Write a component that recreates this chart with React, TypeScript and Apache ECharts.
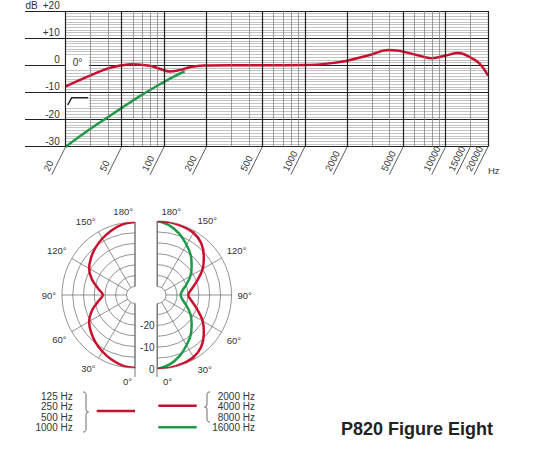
import { useEffect, useRef } from 'react';
import * as echarts from 'echarts';

const FONT = '"Liberation Sans", Arial, Helvetica, sans-serif';
const TEXT = '#333';
const RED = '#c8102e';
const GREEN = '#1f9a48';

// frequency response, 0 degrees
const RESP_HZ = [20, 28, 39, 49, 60, 79, 93, 110, 130, 153, 190, 300, 500, 1000, 1500, 2000, 2900, 3900, 4600, 6200, 8000, 10000, 12300, 15000, 17500, 20000];
const RESP_DB = [-7.8, -4.4, -1.3, -0.1, 0.4, -0.2, -1.3, -2.3, -1.7, -0.7, -0.1, 0, 0, 0.1, 0.7, 1.7, 3.8, 5.6, 5.4, 3.8, 2.6, 3.6, 4.5, 2.9, 0.5, -3.8];

// bass cut (high-pass) curve
const CUT_HZ = [20, 30, 40, 50, 70, 100, 120, 140];
const CUT_DB = [-30, -23.4, -19.1, -15.7, -10.8, -6.1, -3.9, -2.2];

// grid and axis labels
const GRID_MAJOR_HZ = [20, 50, 100, 200, 500, 1000, 2000, 5000, 10000, 20000];
const GRID_MINOR_HZ = [30, 40, 60, 70, 80, 90, 300, 400, 600, 700, 800, 900, 3000, 4000, 6000, 7000, 8000, 9000, 15000];
const X_LABEL_HZ = [20, 50, 100, 200, 500, 1000, 2000, 5000, 10000, 15000, 20000];
const Y_LABEL_DB = [-30, -20, -10, 0, 10, 20];

// polar patterns
const POLAR_ANGLES = [0, 10, 20, 30, 40, 50, 60, 70, 80, 90, 100, 110, 120, 130, 140, 150, 160, 170, 180];
const LOW_DB = [0, -0.6, -2.0, -3.6, -5.3, -7.2, -9.3, -12.6, -16.5, -19.0, -16.5, -12.6, -9.3, -7.2, -5.3, -3.6, -2.0, -0.6, 0];
const MID_DB = [0, -0.1, -0.4, -1.0, -2.8, -6.2, -10.0, -14.5, -18.0, -19.8, -18.0, -14.5, -10.0, -6.2, -2.8, -1.0, -0.4, -0.1, 0];
const HIGH_DB = [0, -1.6, -4.2, -7.3, -10.2, -13.5, -16.5, -19.8, -22.3, -23.3, -22.3, -19.8, -16.5, -13.5, -10.2, -7.3, -4.2, -1.6, 0];
const RING_DB = [-30, -25, -20, -15, -10, -5, 0];
const RING_LABEL_DB = [-20, -10, 0];

const LOW_LABELS = ['125 Hz', '250 Hz', '500 Hz', '1000 Hz'];
const HIGH_LABELS = ['2000 Hz', '4000 Hz', '8000 Hz', '16000 Hz'];

const txt = (text: string, x: number, y: number, align = 'left', size = 10) => ({
  type: 'text',
  x,
  y,
  z: 10,
  style: { text, fill: TEXT, fontSize: size, fontFamily: FONT, align, verticalAlign: 'middle' },
});

const vline = (x: number, y1: number, y2: number) => ({
  type: 'line',
  z: 10,
  shape: { x1: x, y1, x2: x, y2 },
  style: { stroke: '#555', lineWidth: 0.8 },
});

function polarAxes(index: number, clockwise: boolean) {
  return {
    angle: {
      polarIndex: index,
      type: 'value',
      min: 0,
      max: 180,
      interval: 30,
      startAngle: 270,
      endAngle: clockwise ? 90 : 450,
      clockwise,
      axisLine: { show: false },
      axisTick: { show: false },
      splitLine: { lineStyle: { color: '#666', width: 0.7 } },
      axisLabel: {
        margin: 6,
        color: TEXT,
        fontSize: 9.5,
        fontFamily: FONT,
        formatter: (v: number) => (v === 0 || v === 180 ? '' : v + '°'),
      },
    },
    radius: {
      polarIndex: index,
      type: 'value',
      min: -30,
      max: 0,
      interval: 5,
      axisLine: { show: false },
      axisTick: { show: false },
      splitLine: { show: false },
      axisLabel: { show: false },
    },
  };
}

// half rings drawn on the polar's own radius scale
function ringSeries(index: number, leftHalf: boolean, withLabels: boolean) {
  return {
    type: 'custom',
    coordinateSystem: 'polar',
    polarIndex: index,
    silent: true,
    z: 1,
    data: RING_DB.map((d) => [d, 90]),
    renderItem: (params: any, api: any) => {
      const cs = params.coordSys;
      const db = api.value(0);
      const p = api.coord([db, 90]);
      const r = Math.hypot(p[0] - cs.cx, p[1] - cs.cy);
      const children: any[] = [
        {
          type: 'arc',
          shape: {
            cx: cs.cx,
            cy: cs.cy,
            r,
            startAngle: leftHalf ? Math.PI / 2 : -Math.PI / 2,
            endAngle: leftHalf ? (3 * Math.PI) / 2 : Math.PI / 2,
            clockwise: true,
          },
          style: { stroke: '#666', lineWidth: 0.7, fill: 'none' },
        },
      ];
      if (withLabels && RING_LABEL_DB.includes(db)) {
        children.push({
          type: 'text',
          x: cs.cx - 3,
          y: cs.cy + r + 0.5,
          style: { text: String(db), fill: TEXT, fontSize: 10, fontFamily: FONT, align: 'right', verticalAlign: 'middle' },
        });
      }
      return { type: 'group', children };
    },
  };
}

export default function App() {
  const ref = useRef<HTMLDivElement>(null);

  useEffect(() => {
    document.body.style.margin = '0';
    if (!ref.current) return;

    echarts.graphic.registerShape(
      'braceR',
      echarts.graphic.extendPath('M0,0 C3,0 3,1.5 3,4 L3,16.5 C3,19 3.5,20 5.5,20 C3.5,20 3,21 3,23.5 L3,36 C3,38.5 3,40 0,40', {})
    );
    echarts.graphic.registerShape(
      'braceL',
      echarts.graphic.extendPath('M6,0 C3,0 3,1.5 3,4 L3,11.5 C3,14 2.5,15 0.5,15 C2.5,15 3,16 3,18.5 L3,26 C3,28.5 3,30 6,30', {})
    );

    const chart = echarts.init(ref.current, null, { renderer: 'svg' });
    const left = polarAxes(0, true);
    const right = polarAxes(1, false);

    chart.setOption({
      animation: false,
      backgroundColor: '#fff',
      textStyle: { fontFamily: FONT },
      title: {
        text: 'P820 Figure Eight',
        left: 336,
        top: 415,
        textStyle: { fontSize: 18, fontWeight: 'bold', color: '#222', fontFamily: FONT },
      },
      grid: { left: 65.7, top: 10.1, width: 422.3, height: 136.6 },
      xAxis: {
        type: 'log',
        logBase: 10,
        min: 20,
        max: 20000,
        axisLine: { show: false, onZero: false },
        axisTick: { show: false },
        axisLabel: { show: false },
        splitLine: { show: false },
        name: 'Hz',
        nameLocation: 'end',
        nameGap: 0,
        nameTextStyle: { color: TEXT, fontSize: 9.5, align: 'left', verticalAlign: 'top', padding: [19, 0, 0, 0] },
      },
      yAxis: {
        type: 'value',
        min: -30,
        max: 20,
        interval: 10,
        name: 'dB',
        nameLocation: 'end',
        nameGap: 1,
        nameTextStyle: { color: TEXT, fontSize: 10, align: 'right', verticalAlign: 'bottom', padding: [0, 28, 0, 0] },
        axisLine: { show: false },
        axisTick: { show: true, length: 40.7, lineStyle: { color: '#222', width: 1 } },
        axisLabel: { show: false },
        splitLine: { lineStyle: { color: '#222', width: 1 } },
        minorTick: { show: false, splitNumber: 10 },
        minorSplitLine: { show: true, lineStyle: { color: '#9a9a9a', width: 0.6 } },
      },
      polar: [
        { center: [135, 295], radius: [8.5, 73] },
        { center: [157.5, 295], radius: [8.5, 74] },
      ],
      angleAxis: [left.angle, right.angle],
      radiusAxis: [left.radius, right.radius],
      series: [
        {
          type: 'line',
          data: [[20, -30]],
          symbol: 'none',
          lineStyle: { opacity: 0 },
          silent: true,
          z: 1,
          markLine: {
            silent: true,
            symbol: ['none', 'none'],
            label: { show: false },
            animation: false,
            data: [
              ...GRID_MINOR_HZ.map((f) => ({ xAxis: f, lineStyle: { color: '#777', width: 0.7, type: 'solid' } })),
              ...GRID_MAJOR_HZ.map((f) => ({ xAxis: f, lineStyle: { color: '#222', width: 1.2, type: 'solid' } })),
            ],
          },
        },
        {
          type: 'line',
          data: CUT_HZ.map((f, i) => [f, CUT_DB[i]]),
          symbol: 'none',
          smooth: 0.4,
          lineStyle: { color: GREEN, width: 2.5 },
          z: 3,
        },
        {
          type: 'line',
          data: RESP_HZ.map((f, i) => [f, RESP_DB[i]]),
          symbol: 'none',
          smooth: 0.4,
          lineStyle: { color: RED, width: 2.5 },
          z: 4,
        },
        {
          // slanted frequency labels
          type: 'custom',
          coordinateSystem: 'cartesian2d',
          clip: false,
          silent: true,
          z: 5,
          data: X_LABEL_HZ.map((f) => [f, -30]),
          renderItem: (_params: unknown, api: any) => {
            const p = api.coord([api.value(0), api.value(1)]);
            return {
              type: 'group',
              children: [
                {
                  type: 'line',
                  shape: { x1: p[0], y1: p[1], x2: p[0] - 14, y2: p[1] + 28 },
                  style: { stroke: '#333', lineWidth: 0.8 },
                },
                {
                  type: 'text',
                  x: p[0] - 15.2,
                  y: p[1] + 25.9,
                  rotation: 1.107,
                  style: {
                    text: String(api.value(0)),
                    fill: TEXT,
                    fontSize: 9.5,
                    fontFamily: FONT,
                    align: 'left',
                    verticalAlign: 'bottom',
                  },
                },
              ],
            };
          },
        },
        {
          // dB labels sitting on the major lines
          type: 'custom',
          coordinateSystem: 'cartesian2d',
          clip: false,
          silent: true,
          z: 5,
          data: Y_LABEL_DB.map((d) => [20, d]),
          renderItem: (_params: unknown, api: any) => {
            const v = api.value(1);
            const p = api.coord([api.value(0), v]);
            return {
              type: 'text',
              x: p[0] - 6,
              y: p[1] - 0.5,
              style: {
                text: v > 0 ? '+' + v : String(v),
                fill: TEXT,
                fontSize: 10,
                fontFamily: FONT,
                align: 'right',
                verticalAlign: 'bottom',
              },
            };
          },
        },
        ringSeries(0, true, false),
        ringSeries(1, false, true),
        {
          type: 'line',
          coordinateSystem: 'polar',
          polarIndex: 0,
          data: POLAR_ANGLES.map((a, i) => [LOW_DB[i], a]),
          symbol: 'none',
          smooth: 0.35,
          lineStyle: { color: RED, width: 2.5 },
          z: 4,
        },
        {
          type: 'line',
          coordinateSystem: 'polar',
          polarIndex: 1,
          data: POLAR_ANGLES.map((a, i) => [HIGH_DB[i], a]),
          symbol: 'none',
          smooth: 0.35,
          lineStyle: { color: GREEN, width: 2.5 },
          z: 3,
        },
        {
          type: 'line',
          coordinateSystem: 'polar',
          polarIndex: 1,
          data: POLAR_ANGLES.map((a, i) => [MID_DB[i], a]),
          symbol: 'none',
          smooth: 0.35,
          lineStyle: { color: RED, width: 2.5 },
          z: 4,
        },
      ],
      graphic: [
        // boxes inside the response chart
        { type: 'rect', z: 10, shape: { x: 66.3, y: 55.5, width: 22.7, height: 14.5 }, style: { fill: '#fff' } },
        txt('0°', 77.5, 62.5, 'center'),
        { type: 'rect', z: 10, shape: { x: 66.3, y: 93, width: 22.7, height: 15 }, style: { fill: '#fff' } },
        {
          type: 'polyline',
          z: 11,
          shape: { points: [[67.7, 105], [71.7, 97.7], [88.3, 97.7]] },
          style: { stroke: '#222', lineWidth: 1.5, fill: 'none' },
        },
        // polar split lines
        vline(135, 222, 286.5),
        vline(135, 303.5, 377),
        vline(157, 221, 286.5),
        vline(157, 303.5, 377),
        txt('180°', 133, 211, 'right', 9.5),
        txt('180°', 161.5, 211, 'left', 9.5),
        txt('0°', 132, 381.5, 'right', 9.5),
        txt('0°', 163, 381.5, 'left', 9.5),
        // legend
        ...LOW_LABELS.map((t, i) => txt(t, 72.7, 396 + i * 10.5, 'right')),
        ...HIGH_LABELS.map((t, i) => txt(t, 255, 396 + i * 10.5, 'right')),
        { type: 'braceR', z: 10, x: 83, y: 392, style: { stroke: '#444', lineWidth: 0.8, fill: 'none' } },
        { type: 'braceL', z: 10, x: 204, y: 392, style: { stroke: '#444', lineWidth: 0.8, fill: 'none' } },
        { type: 'line', z: 10, shape: { x1: 96.7, y1: 411, x2: 135, y2: 411 }, style: { stroke: RED, lineWidth: 2.5 } },
        { type: 'line', z: 10, shape: { x1: 158.3, y1: 405.7, x2: 196.7, y2: 405.7 }, style: { stroke: RED, lineWidth: 2.5 } },
        { type: 'line', z: 10, shape: { x1: 158.3, y1: 427.3, x2: 196.7, y2: 427.3 }, style: { stroke: GREEN, lineWidth: 2.5 } },
      ],
    });

    return () => chart.dispose();
  }, []);

  return <div ref={ref} style={{ width: 550, height: 450 }} />;
}
